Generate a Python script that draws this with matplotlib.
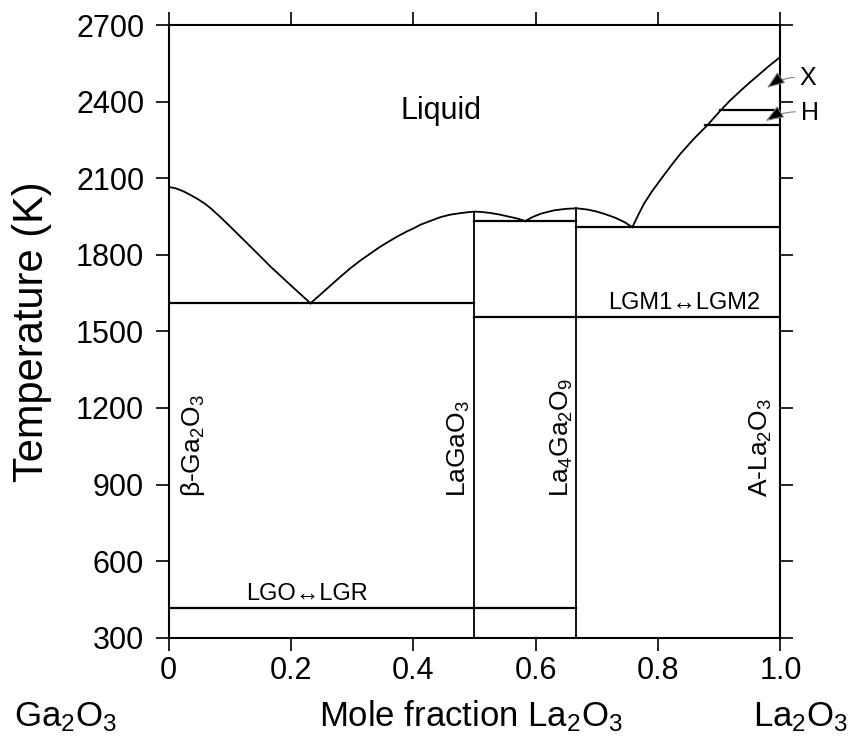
import matplotlib
matplotlib.use("Agg")
import matplotlib.pyplot as plt

plt.rcParams['font.family'] = ['Liberation Sans', 'DejaVu Sans']
plt.rcParams['mathtext.fontset'] = 'custom'
plt.rcParams['mathtext.rm'] = 'Liberation Sans'
plt.rcParams['mathtext.it'] = 'Liberation Sans'

# liquidus curves (mole fraction La2O3, K)
liq1_x = [0.0, 0.012, 0.024, 0.036, 0.048, 0.06, 0.069, 0.085, 0.101, 0.134, 0.167, 0.199, 0.232]
liq1_t = [2066, 2060, 2049, 2034, 2018, 1999, 1982, 1947, 1910, 1832, 1753, 1682, 1610]
liq2_x = [0.232, 0.25, 0.265, 0.28, 0.297, 0.315, 0.33, 0.345, 0.36, 0.375, 0.39, 0.4,
          0.412, 0.425, 0.444, 0.46, 0.477, 0.49, 0.5, 0.51, 0.525, 0.54, 0.555, 0.57, 0.583]
liq2_t = [1610, 1648, 1680, 1712, 1747, 1780, 1805, 1830, 1852, 1873, 1892, 1903,
          1918, 1930, 1947, 1957, 1963, 1967, 1969, 1968, 1964, 1958, 1950, 1942, 1932]
liq3_x = [0.583, 0.595, 0.61, 0.63, 0.65, 0.667, 0.685, 0.7, 0.715, 0.73, 0.745, 0.758]
liq3_t = [1932, 1948, 1962, 1974, 1980, 1982, 1977, 1969, 1958, 1945, 1928, 1908]
liq4_x = [0.758, 0.767, 0.777, 0.79, 0.804, 0.82, 0.837, 0.858, 0.88, 0.902, 0.918,
          0.935, 0.95, 0.967, 0.983, 1.0]
liq4_t = [1908, 1953, 2000, 2048, 2094, 2145, 2197, 2253, 2306, 2365, 2405,
          2443, 2475, 2510, 2543, 2575]

# horizontal invariant lines: (x start, x end, T)
hlines = [
    (0.0, 0.5, 1610),
    (0.5, 2/3, 1932),
    (2/3, 1.0, 1908),
    (0.5, 1.0, 1557),
    (0.0, 2/3, 415),
    (0.877, 1.0, 2309),
    (0.901, 1.0, 2367),
]
# compound lines: (x, top T)
vlines = [(0.5, 1969), (2/3, 1982)]

xticks = [0, 0.2, 0.4, 0.6, 0.8, 1.0]
xticklabels = ["0", "0.2", "0.4", "0.6", "0.8", "1.0"]
yticks = [300, 600, 900, 1200, 1500, 1800, 2100, 2400, 2700]

fig = plt.figure(figsize=(8.52, 7.36), dpi=100)
ax = fig.add_axes([0.1978, 0.1336, 0.7182, 0.8324])

lw = 1.3
for xs, ts in [(liq1_x, liq1_t), (liq2_x, liq2_t), (liq3_x, liq3_t), (liq4_x, liq4_t)]:
    ax.plot(xs, ts, color='black', lw=lw, solid_joinstyle='round')
for x0, x1, t in hlines:
    ax.plot([x0, x1], [t, t], color='black', lw=lw + 0.3)
for x, t in vlines:
    ax.plot([x, x], [300, t], color='black', lw=lw)

ax.set_xlim(0, 1)
ax.set_ylim(300, 2700)
ax.set_xticks(xticks)
ax.set_xticklabels(xticklabels)
ax.set_yticks(yticks)
for s in ax.spines.values():
    s.set_linewidth(1.5)
ax.tick_params(which='both', direction='out', length=9.5, width=1.2,
               top=True, right=True, labelsize=22)
ax.tick_params(axis='x', pad=4)
ax.tick_params(axis='y', pad=8)

# phase labels
ax.text(0.446, 2332, "Liquid", fontsize=22, ha='center', va='baseline')
ax.text(0.842, 1588, "LGM1\u2194LGM2", fontsize=17, ha='center', va='baseline')
ax.text(0.227, 448, "LGO\u2194LGR", fontsize=17, ha='center', va='baseline')

vert = [
    (0.040, "\u03b2-Ga$_2$O$_3$"),
    (0.475, "LaGaO$_3$"),
    (0.643, "La$_4$Ga$_2$O$_9$"),
    (0.968, "A-La$_2$O$_3$"),
]
for x, s in vert:
    ax.text(x, 851, s, fontsize=19, rotation=90, ha='center', va='bottom')

# X and H labels with arrows
arrow = dict(arrowstyle='-|>,head_length=0.8,head_width=0.3', fc='black', ec='gray',
             lw=0.8, mutation_scale=14, connectionstyle='arc3,rad=0.2', shrinkA=2, shrinkB=0)
ax.annotate("X", xy=(0.978, 2454), xytext=(1.045, 2494), fontsize=18,
            ha='center', va='center', arrowprops=arrow, annotation_clip=False)
ax.annotate("H", xy=(0.976, 2324), xytext=(1.048, 2355), fontsize=18,
            ha='center', va='center', arrowprops=arrow, annotation_clip=False)

# axis labels
fig.text(32/852, 0.550, "Temperature (K)", fontsize=30, rotation=90, ha='center', va='center')
fig.text(471/852, 1 - 726/736, "Mole fraction La$_2$O$_3$", fontsize=25, ha='center', va='baseline')
fig.text(65/852, 1 - 726/736, "Ga$_2$O$_3$", fontsize=25, ha='center', va='baseline')
fig.text(801/852, 1 - 726/736, "La$_2$O$_3$", fontsize=25, ha='center', va='baseline')

fig.savefig("out.png", dpi=100)
